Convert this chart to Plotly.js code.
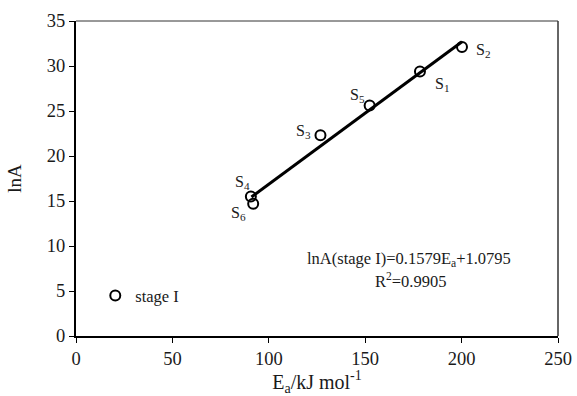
<!DOCTYPE html>
<html>
<head>
<meta charset="utf-8">
<script src="https://cdn.plot.ly/plotly-3.0.1.min.js"></script>
<style>html,body{margin:0;padding:0;background:#fff;}#chart{width:577px;height:396px;}</style>
</head>
<body>
<div id="chart"></div>
<script>
// Sample points (stage I)
const sampleNames = ["S1", "S2", "S3", "S4", "S5", "S6"];
const ea = [178.4, 200.2, 126.8, 90.7, 152.3, 91.9];
const lnA = [29.4, 32.1, 22.3, 15.5, 25.6, 14.7];
// Fitted line endpoints
const fitX = [91, 200.2];
const fitY = [15.45, 32.7];
// Label positions for sample names
const labelText = ["S<sub>1</sub>", "S<sub>2</sub>", "S<sub>3</sub>", "S<sub>4</sub>", "S<sub>5</sub>", "S<sub>6</sub>"];
const labelX = [185, 206.2, 122.8, 86.5, 140.9, 84.3];
const labelY = [27.9, 31.7, 22.7, 17.1, 26.7, 13.6];
const labelAnchor = ["left", "left", "right", "center", "left", "center"];
const xTicks = [0, 50, 100, 150, 200, 250];
const yTicks = [0, 5, 10, 15, 20, 25, 30, 35];

const FONT = "Liberation Serif";

const traces = [
  {
    x: fitX, y: fitY, mode: "lines", type: "scatter",
    line: {color: "#000", width: 3}, showlegend: false, hoverinfo: "skip"
  },
  {
    x: ea, y: lnA, mode: "markers", type: "scatter", name: "stage I",
    text: sampleNames,
    marker: {symbol: "circle-open", size: 10, color: "#000", line: {width: 2, color: "#000"}},
    showlegend: true
  }
];

const annotations = labelText.map((t, i) => ({
  x: labelX[i], y: labelY[i], xref: "x", yref: "y", text: t, showarrow: false,
  xanchor: labelAnchor[i], yanchor: "middle",
  font: {family: FONT, size: 16, color: "#1a1a1a"}
}));
annotations.push({
  x: 0.69, y: 0.245, xref: "paper", yref: "paper", showarrow: false,
  text: "lnA(stage I)=0.1579E<sub>a</sub>+1.0795",
  xanchor: "center", yanchor: "middle",
  font: {family: FONT, size: 16.5, color: "#1a1a1a"}
});
annotations.push({
  x: 0.695, y: 0.175, xref: "paper", yref: "paper", showarrow: false,
  text: "R<sup>2</sup>=0.9905",
  xanchor: "center", yanchor: "middle",
  font: {family: FONT, size: 16.5, color: "#1a1a1a"}
});

const layout = {
  width: 577, height: 396,
  margin: {l: 76, r: 18.5, t: 20.7, b: 59.5},
  paper_bgcolor: "#fff", plot_bgcolor: "#fff",
  font: {family: FONT, size: 16, color: "#1a1a1a"},
  showlegend: true,
  legend: {
    x: 0.04, y: 0.128, xanchor: "left", yanchor: "middle",
    bgcolor: "rgba(0,0,0,0)", borderwidth: 0,
    font: {family: FONT, size: 16.5, color: "#1a1a1a"},
    itemwidth: 30
  },
  xaxis: {
    range: [0, 250], tickvals: xTicks, ticktext: xTicks.map(String),
    showgrid: false, zeroline: false,
    showline: true, linecolor: "#000", linewidth: 2,
    ticks: "outside", ticklen: 5, tickwidth: 1, tickcolor: "#000",
    tickfont: {family: FONT, size: 18.5, color: "#1a1a1a"},
    title: {text: "E<sub>a</sub>/kJ mol<sup>-1</sup>", font: {family: FONT, size: 20, color: "#1a1a1a"}, standoff: 4}
  },
  yaxis: {
    range: [0, 35], tickvals: yTicks, ticktext: yTicks.map(String),
    showgrid: false, zeroline: false,
    showline: true, linecolor: "#000", linewidth: 2,
    ticks: "outside", ticklen: 5, tickwidth: 1, tickcolor: "#000",
    tickfont: {family: FONT, size: 18.5, color: "#1a1a1a"},
    title: {text: "lnA", font: {family: FONT, size: 19, color: "#1a1a1a"}, standoff: 20}
  },
  shapes: [
    {type: "line", xref: "paper", yref: "paper", x0: 0, x1: 1, y0: 1, y1: 1, line: {color: "#333", width: 1}},
    {type: "line", xref: "paper", yref: "paper", x0: 1, x1: 1, y0: 0, y1: 1, line: {color: "#333", width: 1.5}}
  ],
  annotations: annotations
};

Plotly.newPlot("chart", traces, layout, {displayModeBar: false, staticPlot: true});
</script>
</body>
</html>
